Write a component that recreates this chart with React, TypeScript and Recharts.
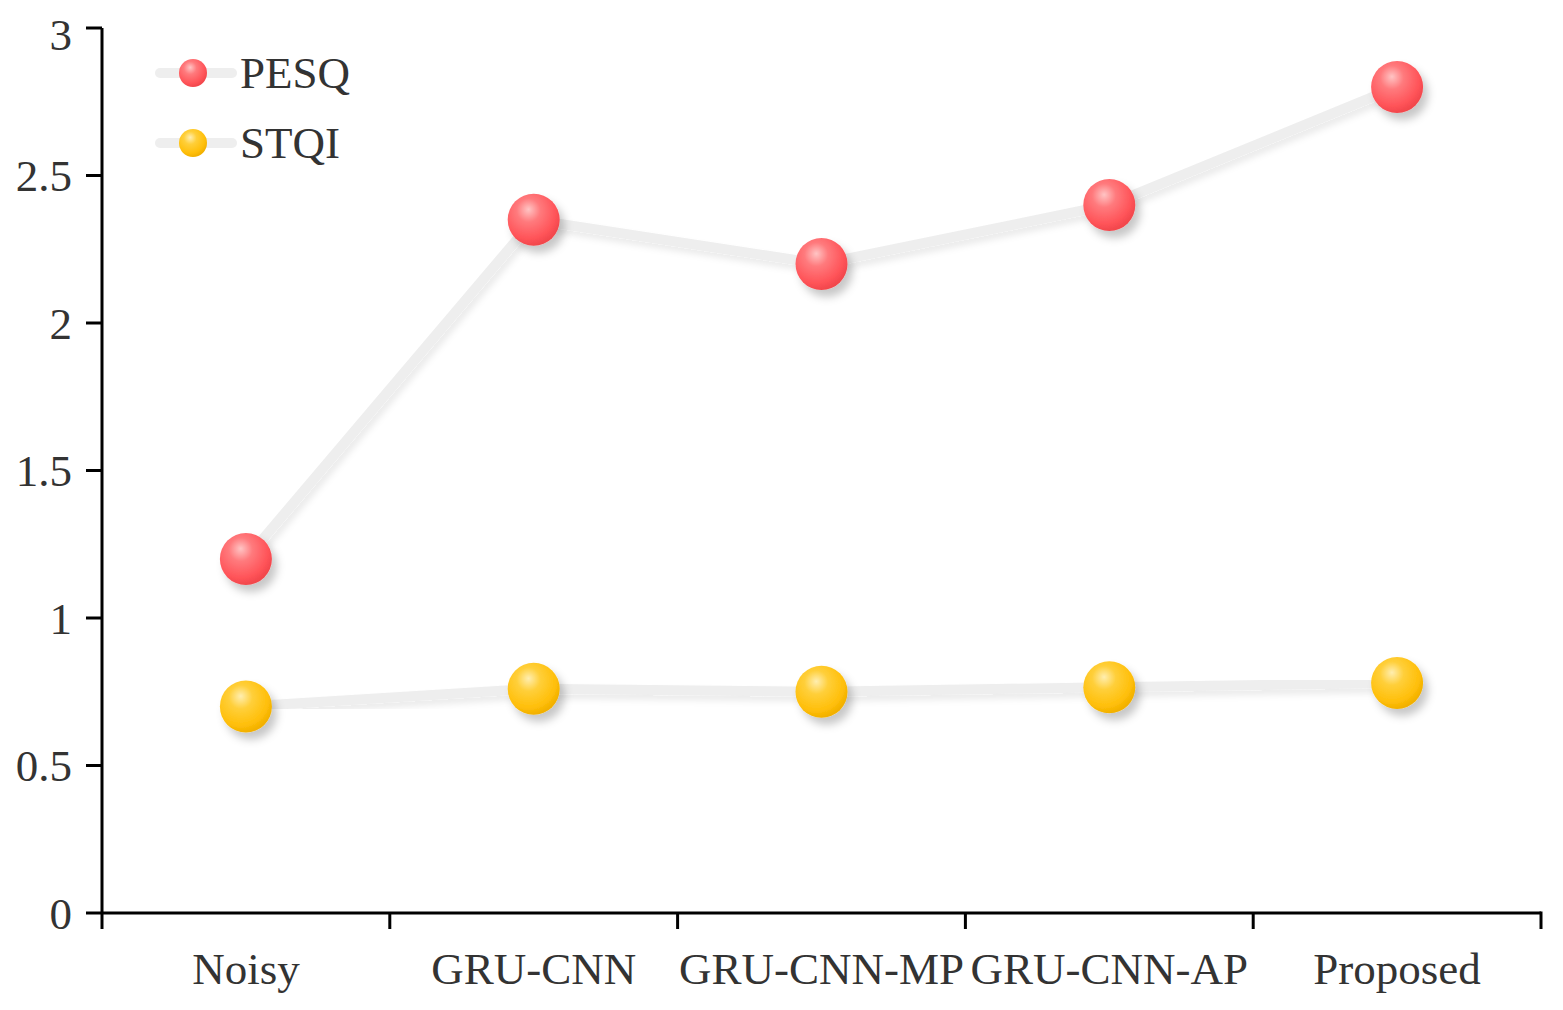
import React from "react";
import { LineChart, Line, XAxis, YAxis } from "recharts";

const categories = ["Noisy", "GRU-CNN", "GRU-CNN-MP", "GRU-CNN-AP", "Proposed"];
const pesq = [1.2, 2.35, 2.2, 2.4, 2.8];
const stqi = [0.7, 0.76, 0.75, 0.765, 0.78];
const yTicks = [0, 0.5, 1, 1.5, 2, 2.5, 3];
const seriesNames = ["PESQ", "STQI"];

const data = categories.map((c, i) => ({ name: c, PESQ: pesq[i], STQI: stqi[i] }));

const W = 1547;
const H = 1002;
const FONT = "'Liberation Serif', 'Times New Roman', serif";
const TEXT = "#333333";

const gradIds: Record<string, string> = { PESQ: "gradRed", STQI: "gradYellow" };

const Defs = () => (
  <defs>
    <radialGradient id="gradRed" cx="0.4" cy="0.35" r="0.65" fx="0.4" fy="0.3">
      <stop offset="0%" stopColor="#ffc4c4" />
      <stop offset="35%" stopColor="#ff7a7d" />
      <stop offset="80%" stopColor="#ff5459" />
      <stop offset="100%" stopColor="#f2474c" />
    </radialGradient>
    <radialGradient id="gradYellow" cx="0.4" cy="0.35" r="0.65" fx="0.4" fy="0.3">
      <stop offset="0%" stopColor="#ffeeb0" />
      <stop offset="35%" stopColor="#ffcf3a" />
      <stop offset="80%" stopColor="#ffbf0a" />
      <stop offset="100%" stopColor="#f2b000" />
    </radialGradient>
    <filter id="dotShadow" x="-50%" y="-50%" width="200%" height="200%">
      <feDropShadow dx="5" dy="7" stdDeviation="4" floodColor="#000" floodOpacity="0.22" />
    </filter>
    <filter id="lineShadow" x="-10%" y="-10%" width="120%" height="120%">
      <feDropShadow dx="3" dy="5" stdDeviation="3" floodColor="#000" floodOpacity="0.08" />
    </filter>
  </defs>
);

const makeDot = (key: string) => (props: any) => {
  const { cx, cy, index } = props;
  if (cx == null || cy == null) return <g key={`${key}-${index}`} />;
  return (
    <circle
      key={`${key}-${index}`}
      cx={cx}
      cy={cy}
      r={26}
      fill={`url(#${gradIds[key]})`}
      filter="url(#dotShadow)"
    />
  );
};

const XTick = (props: any) => {
  const { x, y, payload, index } = props;
  const half = payload && payload.offset ? payload.offset : 1439 / categories.length / 2;
  const last = index === categories.length - 1;
  return (
    <g>
      <line x1={x - half} x2={x - half} y1={y} y2={y + 16} stroke="#000" strokeWidth={3} />
      {last && <line x1={x + half} x2={x + half} y1={y - 1.5} y2={y + 16} stroke="#000" strokeWidth={3} />}
      <text x={x} y={y + 71} textAnchor="middle" fontFamily={FONT} fontSize={45} fill={TEXT}>
        {payload.value}
      </text>
    </g>
  );
};

const LegendBox = () => (
  <svg width={260} height={140} style={{ position: "absolute", left: 140, top: 30, overflow: "visible" }}>
    {seriesNames.map((n, i) => {
      const cy = 35 + i * 70;
      return (
        <g key={n}>
          <line x1={12} x2={84} y1={cy} y2={cy} stroke="#eeeeee" strokeWidth={10} strokeLinecap="round" />
          <circle cx={45} cy={cy} r={14} fill={`url(#${gradIds[n]})`} />
          <text x={92} y={cy + 15} fontFamily={FONT} fontSize={45} fill={TEXT}>
            {n}
          </text>
        </g>
      );
    })}
  </svg>
);

export default function App() {
  return (
    <div style={{ position: "relative", width: W, height: H }}>
      <LineChart width={W} height={H} data={data} margin={{ top: 20, right: 14, left: 0, bottom: 0 }}>
        <Defs />
        <XAxis
          dataKey="name"
          scale="band"
          height={97}
          axisLine={{ stroke: "#000", strokeWidth: 3 }}
          tickLine={false}
          tickSize={0}
          tickMargin={0}
          interval={0}
          tick={<XTick />}
        />
        <YAxis
          width={94}
          domain={[0, 3]}
          ticks={yTicks}
          axisLine={{ stroke: "#000", strokeWidth: 3 }}
          tickLine={{ stroke: "#000", strokeWidth: 3 }}
          tickSize={16}
          tickMargin={14}
          tick={{ fontFamily: FONT, fontSize: 45, fill: TEXT }}
        />
        <Line
          dataKey="PESQ"
          stroke="#eeeeee"
          strokeWidth={10}
          filter="url(#lineShadow)"
          dot={makeDot("PESQ")}
          activeDot={false}
          isAnimationActive={false}
        />
        <Line
          dataKey="STQI"
          stroke="#eeeeee"
          strokeWidth={10}
          filter="url(#lineShadow)"
          dot={makeDot("STQI")}
          activeDot={false}
          isAnimationActive={false}
        />
      </LineChart>
      <LegendBox />
    </div>
  );
}
